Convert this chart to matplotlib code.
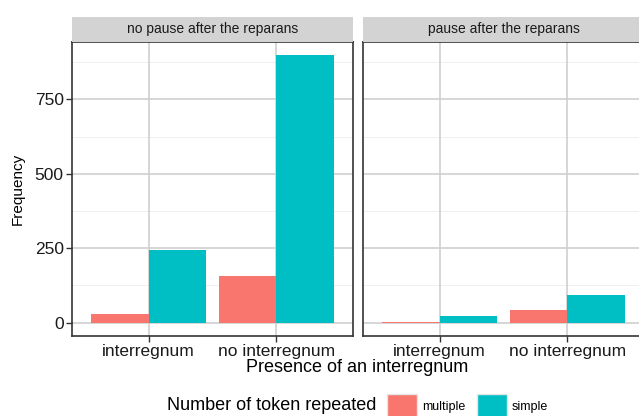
import numpy as np
import matplotlib
matplotlib.use("Agg")
import matplotlib.pyplot as plt
from matplotlib.patches import Patch

plt.rcParams['font.family'] = ['Liberation Sans', 'DejaVu Sans']

# counts per facet, category and repetition type
facets = ['no pause after the reparans', 'pause after the reparans']
categories = ['interregnum', 'no interregnum']
groups = ['multiple', 'simple']
colors = {'multiple': '#F8766D', 'simple': '#00BFC4'}

nopause_multiple = [29, 156]
nopause_simple = [243, 898]
pause_multiple = [1, 43]
pause_simple = [22, 94]

data = {
    facets[0]: {'multiple': nopause_multiple, 'simple': nopause_simple},
    facets[1]: {'multiple': pause_multiple, 'simple': pause_simple},
}

yticks = [0, 250, 500, 750]
yminor = [125, 375, 625, 875]

W, H = 639, 416
fig = plt.figure(figsize=(W / 100, H / 100), dpi=100)
fig.patch.set_facecolor('white')

ymax = max(max(v) for d in data.values() for v in d.values())
ylim = (-0.05 * ymax, 1.05 * ymax)

panel_left = [72, 363]
panel_w = 281
panel_top, panel_bot = 42, 336
strip_top = 17

x = np.arange(1, len(categories) + 1)
bw = 0.45

for k, facet in enumerate(facets):
    ax = fig.add_axes([panel_left[k] / W, 1 - panel_bot / H,
                       panel_w / W, (panel_bot - panel_top) / H])
    ax.set_xlim(0.4, 2.6)
    ax.set_ylim(*ylim)
    ax.set_axisbelow(True)
    for yv in yminor:
        ax.axhline(yv, color='#EFEFEF', lw=0.7, zorder=0)
    for yv in yticks:
        ax.axhline(yv, color='#CFCFCF', lw=1.2, zorder=0)
    for xv in x:
        ax.axvline(xv, color='#CFCFCF', lw=1.2, zorder=0)

    ax.bar(x - bw / 2, data[facet]['multiple'], width=bw,
           color=colors['multiple'], zorder=2)
    ax.bar(x + bw / 2, data[facet]['simple'], width=bw,
           color=colors['simple'], zorder=2)

    for s in ax.spines.values():
        s.set_color('#333333')
        s.set_linewidth(1.2)

    ax.set_xticks(x)
    ax.set_xticklabels(categories, fontsize=12.5, color='#1A1A1A')
    ax.set_yticks(yticks)
    if k == 0:
        ax.set_yticklabels([str(v) for v in yticks], fontsize=12.5, color='#1A1A1A')
        ax.tick_params(axis='y', length=4, width=1, color='#333333', pad=2)
    else:
        ax.set_yticklabels([])
        ax.tick_params(axis='y', length=0)
    ax.tick_params(axis='x', length=4, width=1, color='#333333', pad=2)

    # facet strip
    sax = fig.add_axes([panel_left[k] / W, 1 - panel_top / H,
                        panel_w / W, (panel_top - strip_top) / H])
    sax.set_facecolor('#D3D3D3')
    sax.set_xticks([])
    sax.set_yticks([])
    for s in sax.spines.values():
        s.set_visible(False)
    sax.text(0.5, 0.5, facet, ha='center', va='center',
             fontsize=10, color='#1A1A1A', transform=sax.transAxes)

fig.text(18 / W, 1 - 189 / H, 'Frequency', rotation=90, ha='center',
         va='center', fontsize=11, color='black')
fig.text(357 / W, 1 - 367 / H, 'Presence of an interregnum', ha='center',
         va='center', fontsize=13, color='black')

fig.text(272 / W, 1 - 406 / H, 'Number of token repeated', ha='center',
         va='center', fontsize=13, color='black')
handles = [Patch(facecolor=colors[g], edgecolor='#E6E6E6', label=g) for g in groups]
fig.legend(handles=handles, loc='center left', ncol=2, frameon=False,
           bbox_to_anchor=(387 / W, 1 - 406 / H), fontsize=9,
           handlelength=2.4, handleheight=2.6, handletextpad=0.4,
           columnspacing=0.9, borderpad=0, borderaxespad=0)

fig.savefig('out.png', dpi=100)
